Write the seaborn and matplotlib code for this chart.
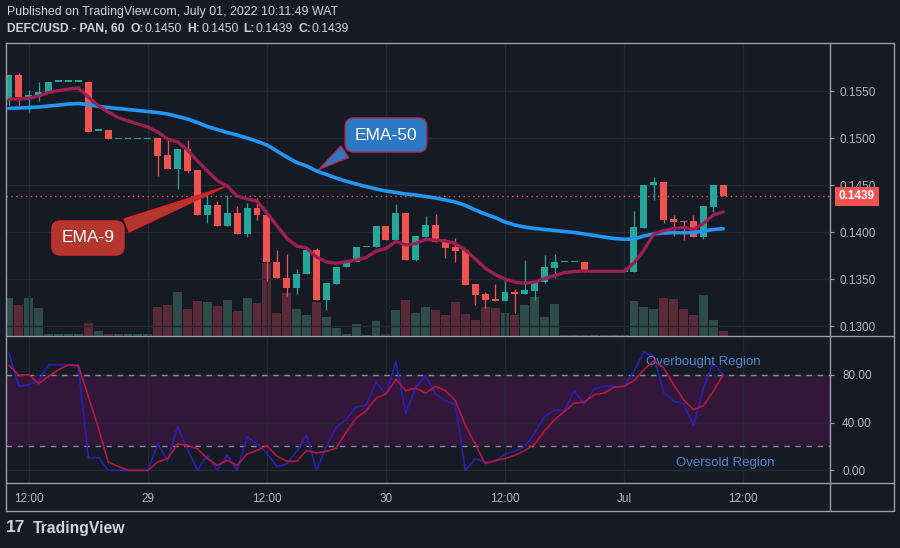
import numpy as np
import pandas as pd
import matplotlib
matplotlib.use('Agg')
import matplotlib.pyplot as plt
import matplotlib.transforms as mtransforms
from matplotlib.lines import Line2D
import seaborn as sns

# hourly DEFC/USD candles, 28 Jun 2022 10:00 -> 01 Jul 2022 10:00
start = pd.Timestamp('2022-06-28 10:00')
opens = [0.1540, 0.1567, 0.1544, 0.1545, 0.1548, 0.1560, 0.1560, 0.1560, 0.1560, 0.1508,
         0.1509, 0.1499, 0.1499, 0.1499, 0.1499, 0.1500, 0.1482, 0.1467, 0.1488, 0.1466,
         0.1418, 0.1429, 0.1407, 0.1420, 0.1398, 0.1426, 0.1418, 0.1369, 0.1352, 0.1341,
         0.1356, 0.1381, 0.1328, 0.1345, 0.1363, 0.1369, 0.1384, 0.1384, 0.1407, 0.1392,
         0.1421, 0.1371, 0.1395, 0.1408, 0.1391, 0.1384, 0.1381, 0.1345, 0.1334, 0.1329,
         0.1327, 0.1337, 0.1334, 0.1338, 0.1347, 0.1362, 0.1368, 0.1368, 0.1368, 0.1358,
         0.1358, 0.1358, 0.1358, 0.1358, 0.1405, 0.1450, 0.1453, 0.1414, 0.1412, 0.1412,
         0.1395, 0.1427, 0.1450]
highs = [0.1568, 0.1569, 0.1551, 0.1560, 0.1560, 0.1560, 0.1560, 0.1560, 0.1560, 0.1508,
         0.1509, 0.1499, 0.1499, 0.1499, 0.1499, 0.1500, 0.1498, 0.1488, 0.1498, 0.1466,
         0.1440, 0.1433, 0.1440, 0.1428, 0.1431, 0.1436, 0.1418, 0.1381, 0.1377, 0.1361,
         0.1383, 0.1383, 0.1346, 0.1363, 0.1370, 0.1384, 0.1384, 0.1407, 0.1407, 0.1430,
         0.1421, 0.1396, 0.1417, 0.1419, 0.1393, 0.1394, 0.1381, 0.1345, 0.1337, 0.1345,
         0.1349, 0.1340, 0.1371, 0.1348, 0.1376, 0.1377, 0.1368, 0.1368, 0.1368, 0.1358,
         0.1358, 0.1358, 0.1358, 0.1423, 0.1450, 0.1459, 0.1453, 0.1418, 0.1412, 0.1418,
         0.1428, 0.1450, 0.1450]
lows = [0.1535, 0.1535, 0.1528, 0.1539, 0.1548, 0.1560, 0.1560, 0.1560, 0.1507, 0.1508,
        0.1499, 0.1499, 0.1499, 0.1499, 0.1499, 0.1460, 0.1467, 0.1446, 0.1463, 0.1418,
        0.1410, 0.1407, 0.1407, 0.1398, 0.1395, 0.1413, 0.1348, 0.1352, 0.1332, 0.1335,
        0.1356, 0.1328, 0.1317, 0.1345, 0.1363, 0.1369, 0.1384, 0.1384, 0.1392, 0.1392,
        0.1371, 0.1370, 0.1395, 0.1390, 0.1373, 0.1368, 0.1344, 0.1323, 0.1320, 0.1327,
        0.1327, 0.1314, 0.1334, 0.1328, 0.1346, 0.1351, 0.1368, 0.1368, 0.1358, 0.1358,
        0.1358, 0.1358, 0.1358, 0.1358, 0.1405, 0.1434, 0.1410, 0.1396, 0.1392, 0.1395,
        0.1393, 0.1422, 0.1439]
closes = [0.1567, 0.1544, 0.1546, 0.1549, 0.1560, 0.1560, 0.1560, 0.1560, 0.1507, 0.1508,
          0.1499, 0.1499, 0.1499, 0.1499, 0.1499, 0.1481, 0.1467, 0.1488, 0.1465, 0.1418,
          0.1429, 0.1407, 0.1420, 0.1398, 0.1426, 0.1418, 0.1368, 0.1352, 0.1341, 0.1356,
          0.1381, 0.1328, 0.1346, 0.1363, 0.1370, 0.1384, 0.1384, 0.1407, 0.1392, 0.1421,
          0.1371, 0.1396, 0.1408, 0.1390, 0.1383, 0.1380, 0.1344, 0.1333, 0.1328, 0.1327,
          0.1337, 0.1334, 0.1339, 0.1348, 0.1363, 0.1369, 0.1368, 0.1368, 0.1358, 0.1358,
          0.1358, 0.1358, 0.1358, 0.1406, 0.1450, 0.1453, 0.1413, 0.1411, 0.1411, 0.1395,
          0.1428, 0.1450, 0.1439]
volume_k = [37.7, 30.7, 37.7, 27.7, 1.7, 1.5, 1.5, 1.5, 12.7, 4.7,
            1.7, 1.5, 1.5, 1.5, 1.5, 28.7, 30.7, 43.7, 26.7, 34.7,
            33.7, 29.7, 35.7, 24.7, 37.7, 32.7, 72.7, 22.7, 42.7, 26.7,
            21.0, 33.7, 18.7, 8.0, 2.0, 11.7, 0.7, 14.7, 2.0, 25.7,
            35.7, 22.7, 28.7, 25.7, 20.7, 33.7, 21.7, 15.7, 28.7, 27.7,
            22.7, 20.7, 30.7, 38.7, 18.7, 31.7, 1.0, 1.0, 1.0, 1.0,
            1.0, 1.0, 1.0, 34.7, 29.0, 26.7, 38.0, 36.7, 26.7, 20.7,
            40.7, 15.7, 4.7]
ema9 = [0.15413, 0.15417, 0.15423, 0.15447, 0.15484, 0.15505, 0.15521, 0.15532, 0.15436, 0.15346,
        0.15277, 0.15219, 0.15182, 0.15150, 0.15118, 0.15065, 0.14990, 0.14959, 0.14874, 0.14757,
        0.14651, 0.14550, 0.14492, 0.14385, 0.14354, 0.14332, 0.14205, 0.14072, 0.13939, 0.13855,
        0.13833, 0.13738, 0.13685, 0.13671, 0.13688, 0.13706, 0.13732, 0.13801, 0.13828, 0.13902,
        0.13865, 0.13881, 0.13924, 0.13918, 0.13908, 0.13881, 0.13812, 0.13717, 0.13621, 0.13552,
        0.13504, 0.13472, 0.13459, 0.13472, 0.13510, 0.13541, 0.13573, 0.13584, 0.13589, 0.13586,
        0.13586, 0.13586, 0.13586, 0.13674, 0.13812, 0.13982, 0.14019, 0.14040, 0.14053, 0.14030,
        0.14093, 0.14184, 0.14215]
ema50 = [0.15316, 0.15320, 0.15325, 0.15330, 0.15341, 0.15351, 0.15362, 0.15367, 0.15357, 0.15338,
         0.15325, 0.15314, 0.15304, 0.15293, 0.15282, 0.15272, 0.15256, 0.15229, 0.15203, 0.15166,
         0.15123, 0.15091, 0.15059, 0.15033, 0.15001, 0.14966, 0.14927, 0.14863, 0.14799, 0.14741,
         0.14704, 0.14651, 0.14614, 0.14576, 0.14542, 0.14513, 0.14486, 0.14460, 0.14438, 0.14423,
         0.14407, 0.14396, 0.14380, 0.14364, 0.14343, 0.14322, 0.14285, 0.14237, 0.14194, 0.14157,
         0.14109, 0.14077, 0.14056, 0.14040, 0.14030, 0.14019, 0.14008, 0.13998, 0.13982, 0.13966,
         0.13950, 0.13934, 0.13926, 0.13929, 0.13961, 0.13982, 0.13993, 0.13996, 0.13996, 0.13996,
         0.14014, 0.14030, 0.14038]
stoch_k = [98.2, 70.3, 71.7, 75.0, 88.4, 88.4, 88.4, 86.5, 10.3, 10.9,
           0.0, 0.0, 0.0, 0.0, 0.0, 22.0, 8.1, 36.8, 17.3, 0.0,
           12.6, 0.0, 12.6, 0.0, 27.9, 22.0, 14.5, 3.3, 5.3, 15.9,
           29.3, 0.0, 20.1, 36.0, 42.4, 53.0, 54.4, 73.9, 63.3, 91.2,
           47.4, 69.5, 79.2, 63.9, 58.3, 55.0, 0.0, 9.8, 7.0, 7.5,
           13.7, 15.9, 20.1, 31.2, 45.2, 50.2, 50.2, 66.7, 55.0, 68.3,
           70.3, 70.3, 70.3, 82.8, 99.0, 95.4, 65.5, 57.7, 55.8, 37.7,
           68.9, 89.8, 80.1]
stoch_d = [87.9, 79.5, 80.0, 72.5, 78.7, 84.2, 88.4, 87.6, 61.7, 35.9,
           7.0, 3.3, 0.0, 0.0, 0.0, 7.0, 9.8, 22.0, 20.9, 17.9,
           9.8, 4.2, 8.4, 4.2, 13.7, 16.7, 20.6, 12.0, 7.5, 7.5,
           16.5, 14.5, 15.9, 18.7, 32.1, 43.8, 49.9, 60.5, 63.9, 75.9,
           66.7, 68.9, 64.7, 70.3, 66.7, 58.3, 37.7, 22.0, 5.6, 8.1,
           9.8, 12.6, 16.5, 22.0, 33.2, 42.4, 49.4, 56.3, 57.2, 63.3,
           64.7, 69.5, 70.3, 75.0, 84.2, 91.8, 85.6, 71.7, 59.1, 50.8,
           54.1, 66.1, 80.1]

price_ticks = [0.1300, 0.1350, 0.1400, 0.1450, 0.1500, 0.1550]
stoch_ticks = [0, 40, 80]
time_ticks = ['2022-06-28 12:00', '2022-06-29 00:00', '2022-06-29 12:00', '2022-06-30 00:00',
              '2022-06-30 12:00', '2022-07-01 00:00', '2022-07-01 12:00']
time_labels = ['12:00', '29', '12:00', '30', '12:00', 'Jul', '12:00']

BG = '#161a25'
GRID = '#242833'
FRAME = '#9a9da6'
TXT = '#b2b5be'
UP, DOWN = '#26a69a', '#ef5350'
UP_VOL, DOWN_VOL = '#2e4c48', '#5a2a38'

sns.set_style('dark', {'axes.facecolor': BG, 'figure.facecolor': BG})
plt.rcParams['font.family'] = ['Liberation Sans', 'DejaVu Sans']

df = pd.DataFrame({'open': opens, 'high': highs, 'low': lows, 'close': closes,
                   'vol': volume_k, 'ema9': ema9, 'ema50': ema50,
                   'k': stoch_k, 'd': stoch_d})
df['t'] = np.arange(len(df))
df['up'] = df['close'] >= df['open']
tick_pos = [(pd.Timestamp(s) - start) / pd.Timedelta(hours=1) for s in time_ticks]

W, H = 900, 548
fig = plt.figure(figsize=(9, 5.48), dpi=100)


def rect(x0, y0, x1, y1):
    return [x0 / W, 1 - y1 / H, (x1 - x0) / W, (y1 - y0) / H]


XL = (-0.30, 82.71)

# ---- price pane ----
ax_vol = fig.add_axes(rect(6, 43, 829.5, 336))
ax = fig.add_axes(rect(6, 43, 829.5, 336), sharex=ax_vol)
ax.set_zorder(ax_vol.get_zorder() + 1)
ax.patch.set_visible(False)

vcol = [UP_VOL if u else DOWN_VOL for u in df['up']]
ax_vol.bar(df['t'], df['vol'], width=0.9, color=vcol, linewidth=0)
ax_vol.set_ylim(0, df['vol'].max() * 4.03)
ax_vol.set_yticks([])

ccol = [UP if u else DOWN for u in df['up']]
body_lo = np.minimum(df['open'], df['close'])
body_h = np.maximum((df['close'] - df['open']).abs(), 0.00015)
ax.vlines(df['t'], df['low'], df['high'], colors=ccol, lw=0.9, zorder=3)
ax.bar(df['t'], body_h, bottom=body_lo, width=0.7, color=ccol, linewidth=0, zorder=4)

sns.lineplot(data=df, x='t', y='ema50', ax=ax, color='#2196f3', lw=2.6, zorder=5)
sns.lineplot(data=df, x='t', y='ema9', ax=ax, color='#9e1f52', lw=2.4, zorder=6)

last = df['close'].iloc[-1]
ax.axhline(last, color=DOWN, ls=(0, (1, 2.5)), lw=1, zorder=2)

ax.set_xlim(*XL)
ax.set_ylim(0.12899, 0.16010)
ax.set_xticks(tick_pos)
ax.tick_params(axis='x', length=0, labelbottom=False)
ax.yaxis.tick_right()
ax.set_yticks(price_ticks)
ax.set_yticklabels([f'{p:.4f}' for p in price_ticks])
ax.tick_params(axis='y', colors=FRAME, labelcolor=TXT, labelsize=8.5, length=3, width=0.8, pad=4)
ax.grid(True, color=GRID, lw=1)
ax.set_xlabel('')
ax.set_ylabel('')
for a in (ax, ax_vol):
    for s in a.spines.values():
        s.set_visible(False)
ax_vol.tick_params(axis='x', length=0, labelbottom=False)

blend = mtransforms.blended_transform_factory(ax.transAxes, ax.transData)
ax.text(1.0115, last - 0.00006, f'{last:.4f}', transform=blend, ha='left', va='center', color='white',
        fontsize=8.5, fontweight='bold', zorder=10, clip_on=False,
        bbox=dict(boxstyle='square,pad=0.3', fc='#f05350', ec='none'))

# callouts
ax.annotate('EMA-9', xy=(22, df['ema9'][22]), xytext=(7.96, 0.13940), ha='center', va='center',
            color='white', fontsize=12.5, zorder=12,
            bbox=dict(boxstyle='round,pad=0.55,rounding_size=0.5', fc='#b3362f', ec='#d42a2a', lw=1),
            arrowprops=dict(arrowstyle='wedge,tail_width=0.8,shrink_factor=0.5', fc='#b3362f',
                            ec='#e02020', lw=1, relpos=(0.88, 0.85)))
ax.annotate('EMA-50', xy=(31, df['ema50'][31]), xytext=(38.0, 0.15033), ha='center', va='center',
            color='white', fontsize=12.5, zorder=12,
            bbox=dict(boxstyle='round,pad=0.55,rounding_size=0.5', fc='#2b79c2', ec='#b8264f', lw=1),
            arrowprops=dict(arrowstyle='wedge,tail_width=0.8,shrink_factor=0.5', fc='#2b79c2',
                            ec='#b8264f', lw=1, relpos=(0.1, 0.12)))

# ---- stochastic pane ----
ax2 = fig.add_axes(rect(6, 336, 829.5, 483), sharex=ax_vol)
ax2.axhspan(20, 80, color='#32173a', lw=0, zorder=0)
ax2.grid(True, color=GRID, lw=1)
ax2.set_axisbelow(True)
for lvl in (80, 20):
    ax2.axhline(lvl, color='#8a8d96', lw=1, ls=(0, (4, 4)), zorder=1)
sns.lineplot(data=df, x='t', y='k', ax=ax2, color='#2a20b5', lw=1.2, zorder=3)
sns.lineplot(data=df, x='t', y='d', ax=ax2, color='#b8173f', lw=1.2, zorder=4)
ax2.text(64.2, 90.6, 'Overbought Region', color='#4f86d2', fontsize=9.5, va='center', ha='left')
ax2.text(67.2, 6.1, 'Oversold Region', color='#4f86d2', fontsize=9.5, va='center', ha='left')
ax2.set_xlim(*XL)
ax2.set_ylim(-10.6, 112.4)
ax2.yaxis.tick_right()
ax2.set_yticks(stoch_ticks)
ax2.set_yticklabels([f'{v:.2f}' for v in stoch_ticks])
ax2.tick_params(axis='y', colors=FRAME, labelcolor=TXT, labelsize=8.5, length=3, width=0.8, pad=6)
ax2.set_xticks(tick_pos)
ax2.set_xticklabels(time_labels)
ax2.tick_params(axis='x', colors=FRAME, labelcolor=TXT, labelsize=8.5, length=3, width=0.8, pad=4)
ax2.set_xlabel('')
ax2.set_ylabel('')
for s in ax2.spines.values():
    s.set_visible(False)

# ---- frame ----
def fline(x0, y0, x1, y1):
    fig.add_artist(Line2D([x0 / W, x1 / W], [1 - y0 / H, 1 - y1 / H], color=FRAME, lw=1,
                          transform=fig.transFigure))


fline(6, 43, 894, 43)
fline(6, 511, 894, 511)
fline(6, 43, 6, 511)
fline(894, 43, 894, 511)
fline(6, 336, 894, 336)
fline(6, 483, 894, 483)
fline(829.5, 43, 829.5, 511)

# ---- header ----
HDR = '#d1d4dc'
fig.text(7 / W, 1 - 12 / H, 'Published on TradingView.com, July 01, 2022 10:11:49 WAT',
         color=HDR, fontsize=8.9, va='center')

# second line laid out piece by piece
renderer = fig.canvas.get_renderer()
pieces = [('DEFC/USD - PAN, 60', 'bold', 6), ('O:', 'bold', 1), ('0.1450', 'normal', 5),
          ('H:', 'bold', 1), ('0.1450', 'normal', 5), ('L:', 'bold', 1),
          ('0.1439', 'normal', 5), ('C:', 'bold', 1), ('0.1439', 'normal', 0)]
px = 7
for s, w, gap in pieces:
    t = fig.text(px / W, 1 - 29 / H, s, color=HDR, fontsize=8.7, fontweight=w, va='center')
    px += t.get_window_extent(renderer=renderer).width + gap

fig.text(6 / W, 1 - 528 / H, '17', color=HDR, fontsize=12.5, fontweight='heavy', va='center')
fig.text(33 / W, 1 - 528 / H, 'TradingView', color=HDR, fontsize=11.3, fontweight='bold', va='center')

fig.savefig('out.png', dpi=100, facecolor=BG)
